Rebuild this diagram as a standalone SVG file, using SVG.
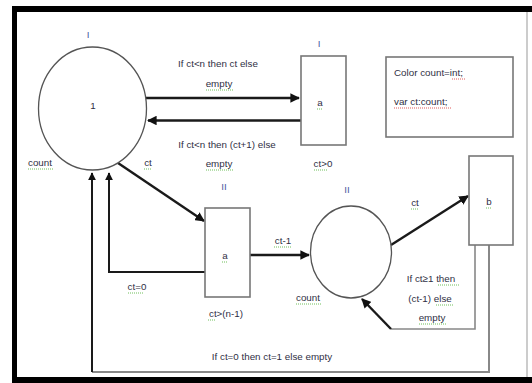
<svg xmlns="http://www.w3.org/2000/svg" width="532" height="383" viewBox="0 0 532 383">
<defs>
<marker id="ah" viewBox="0 0 10 10" refX="9" refY="5" markerWidth="4" markerHeight="4" orient="auto" markerUnits="strokeWidth">
<path d="M0,0 L10,5 L0,10 z" fill="#111"/>
</marker>
<style>
text{font-family:"Liberation Sans",Arial,sans-serif;font-size:9.8px;fill:#2f2f44}
.m{text-anchor:middle}
.rn{fill:#4a5aa0}
.pl{fill:none;stroke:#555;stroke-width:1.3}
.tr{fill:#fff;stroke:#777;stroke-width:1.6}
.c{fill:none;stroke:#1a1a1a;stroke-width:2.4}
.cg{fill:none;stroke:#888;stroke-width:2}
.sq{stroke:#6fbf5a;stroke-width:1;stroke-dasharray:1 1}
.sr{stroke:#e05a5a;stroke-width:1;stroke-dasharray:1 1}
</style>
</defs>
<rect x="0" y="0" width="532" height="383" fill="#fff"/>
<!-- frame -->
<rect x="12" y="6" width="520" height="6" fill="#000"/>
<rect x="12" y="6" width="5" height="377" fill="#000"/>
<rect x="12" y="377" width="520" height="6" fill="#000"/>
<line x1="527" y1="12" x2="527" y2="377" stroke="#999" stroke-width="1"/>

<g id="connectors">
<path class="c" d="M146,98 L299,98" marker-end="url(#ah)"/>
<path class="c" d="M301,120.5 L148,120.5" marker-end="url(#ah)"/>
<path class="c" d="M118,163 L204,221" marker-end="url(#ah)"/>
<path class="c" style="stroke-width:2" d="M205,272 L109,272 L109,173" marker-end="url(#ah)"/>
<path class="cg" d="M489,245 L489,372 L92,372"/>
<path class="c" style="stroke-width:2" d="M92,372 L92,173" marker-end="url(#ah)"/>
<path class="c" d="M250,255 L309,255" marker-end="url(#ah)"/>
<path class="c" d="M391,245 L468,196" marker-end="url(#ah)"/>
<path class="cg" style="stroke-width:1.6" d="M475,245 L475,329 L391,329"/>
<path class="c" d="M391,329 L362,299" marker-end="url(#ah)"/>
</g>

<g id="place-I">
<ellipse class="pl" cx="92.5" cy="108.5" rx="54" ry="61.5"/>
<text class="m rn" x="88" y="38">I</text>
<text class="m" x="93" y="109">1</text>
<text class="m" x="40" y="166">count</text>
<line class="sq" x1="28" y1="169" x2="53" y2="169"/>
</g>

<g id="trans-I-a">
<rect class="tr" x="301" y="56" width="45" height="89"/>
<text class="m rn" x="319" y="47">I</text>
<text class="m" x="320" y="106">a</text>
<line class="sq" x1="317" y1="109" x2="323" y2="109"/>
<text class="m" x="323" y="167">ct&gt;0</text>
<line class="sq" x1="314" y1="170" x2="327" y2="170"/>
</g>

<g id="decl">
<rect class="tr" x="386" y="57" width="127" height="80"/>
<text x="394" y="76">Color count=int;</text>
<line class="sr" x1="452" y1="79" x2="466" y2="79"/>
<text x="394" y="105">var ct:count;</text>
<line class="sr" x1="394" y1="108" x2="451" y2="108"/>
</g>

<g id="trans-II-a">
<rect class="tr" x="205" y="208" width="45" height="89"/>
<text class="m rn" x="224" y="190">II</text>
<text class="m" x="225" y="259">a</text>
<line class="sq" x1="222" y1="262" x2="228" y2="262"/>
<text class="m" x="226" y="317">ct&gt;(n-1)</text>
<line class="sq" x1="208" y1="320" x2="216" y2="320"/>
</g>

<g id="place-II">
<ellipse class="pl" cx="351" cy="252" rx="40.5" ry="46"/>
<text class="m rn" x="347" y="193">II</text>
<text class="m" x="308" y="301">count</text>
<line class="sq" x1="296" y1="304" x2="321" y2="304"/>
</g>

<g id="trans-b">
<rect class="tr" x="469" y="156" width="44" height="89"/>
<text class="m" x="489" y="205">b</text>
<line class="sq" x1="486" y1="208" x2="492" y2="208"/>
</g>

<g id="labels">
<text class="m" x="148" y="166">ct</text>
<line class="sq" x1="144" y1="169" x2="152" y2="169"/>
<text class="m" x="218" y="67">If ct&lt;n then ct else</text>
<text class="m" x="219" y="87">empty</text>
<line class="sq" x1="206" y1="90" x2="233" y2="90"/>
<text class="m" x="227" y="148">If ct&lt;n then (ct+1) else</text>
<text class="m" x="219" y="167">empty</text>
<line class="sq" x1="206" y1="170" x2="233" y2="170"/>
<text class="m" x="137" y="290">ct=0</text>
<line class="sq" x1="128" y1="293" x2="143" y2="293"/>
<text class="m" x="283" y="244">ct-1</text>
<line class="sq" x1="274" y1="247" x2="292" y2="247"/>
<text class="m" x="415" y="206">ct</text>
<line class="sq" x1="411" y1="209" x2="419" y2="209"/>
<text class="m" x="431" y="282">If ct≥1 then</text>
<line class="sq" x1="438" y1="285" x2="459" y2="285"/>
<text class="m" x="430" y="302">(ct-1) else</text>
<line class="sq" x1="436" y1="305" x2="454" y2="305"/>
<text class="m" x="432" y="321">empty</text>
<line class="sq" x1="419" y1="324" x2="446" y2="324"/>
<text class="m" x="272" y="360">If ct=0 then ct=1 else empty</text>
</g>
</svg>
